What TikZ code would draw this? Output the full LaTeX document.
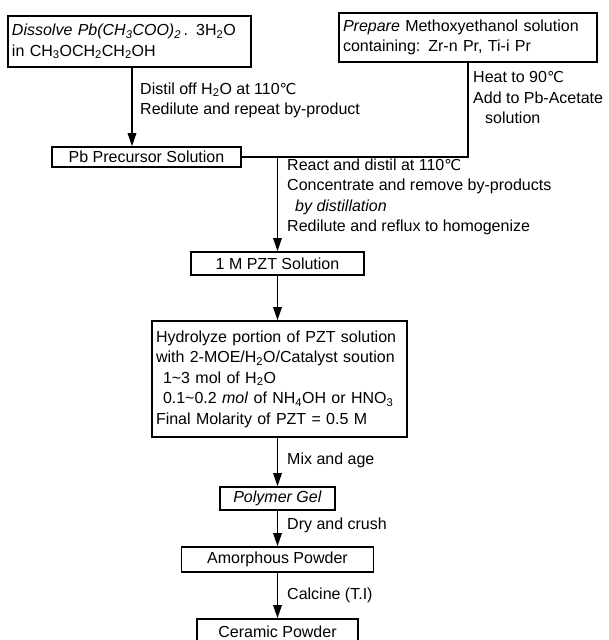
\documentclass[tikz,border=0pt]{standalone}
\usepackage{fontspec}
\setmainfont{Liberation Sans}
\newfontfamily\symfont{DejaVu Sans}
\usetikzlibrary{arrows.meta}
\newcommand{\degC}{{\symfont\fontsize{15}{15}\selectfont ℃}}
\newcommand{\mysub}[1]{\textsubscript{#1}}
\tikzset{
  box/.style={draw, line width=1.6pt, inner xsep=4pt, inner ysep=0pt, align=left},
  sbox/.style={draw, line width=1.6pt, inner sep=0pt, align=center},
  lbl/.style={inner sep=0pt, anchor=west, align=left},
  arr/.style={-{Triangle[length=13pt,width=8.5pt]}, line width=1.6pt},
  conn/.style={line width=1.6pt}
}
\begin{document}
\begin{tikzpicture}[x=1pt,y=-1pt,font=\fontsize{16}{20.5}\selectfont]
\useasboundingbox (0,0) rectangle (608,640);
\fill[white] (0,0) rectangle (608,640);
% boxes
\node[box, text width=235pt, minimum height=51pt] (d) at (129.5,41.5)
  {\textit{Dissolve Pb(CH\mysub{3}COO)\mysub{2}}\,. 3H\mysub{2}O\\in CH\mysub{3}OCH\mysub{2}CH\mysub{2}OH};
\node[box, text width=250pt, minimum height=49pt] (p) at (468,37.5)
  {\textit{Prepare} Methoxyethanol solution\\containing: Zr-n Pr, Ti-i Pr};
\node[sbox, minimum width=189pt, minimum height=20pt] (pb) at (146.5,157) {Pb Precursor Solution};
\node[sbox, minimum width=173pt, minimum height=23pt] (pzt) at (277.5,263.5) {1 M PZT Solution};
\node[box, text width=247pt, minimum height=116pt] (hyd) at (279.5,379)
  {Hydrolyze portion of PZT solution\\
   with 2-MOE/H\mysub{2}O/Catalyst soution\\
   \hspace*{7pt}1\textasciitilde 3 mol of H\mysub{2}O\\
   \hspace*{7pt}0.1\textasciitilde 0.2 \textit{mol} of NH\mysub{4}OH or HNO\mysub{3}\\
   Final Molarity of PZT = 0.5 M};
\node[sbox, minimum width=115pt, minimum height=23pt] (gel) at (277.5,498.5) {\textit{Polymer Gel}};
\node[sbox, minimum width=192pt, minimum height=25pt] (amo) at (277.5,559.5) {Amorphous Powder};
\node[sbox, minimum width=161pt, minimum height=26pt] (cer) at (277.5,632) {Ceramic Powder};
% labels
\node[lbl] (l1) at (140,100.5) {Distil off H\mysub{2}O at 110\degC\\Redilute and repeat by-product};
\node[lbl] (l2) at (473,97.5) {Heat to 90\degC\\Add to Pb-Acetate\\\hspace*{12pt}solution};
\node[lbl] (l3) at (287,197) {React and distil at 110\degC\\Concentrate and remove by-products\\\hspace*{8pt}\textit{by distillation}\\Redilute and reflux to homogenize};
\node[lbl] (l4) at (287,460) {Mix and age};
\node[lbl] (l5) at (287,525) {Dry and crush};
\node[lbl] (l6) at (287,595) {Calcine (T.I)};
% connectors
\coordinate (ca) at (132,0);
\draw[arr] (d.south -| ca) -- (pb.north -| ca);
\draw[conn] (p.south) |- (pb.east);
\draw[arr] (pb.east -| pzt.north) -- (pzt.north);
\draw[arr] (pzt.south) -- (pzt.south |- hyd.north);
\draw[arr] (hyd.south -| gel.north) -- (gel.north);
\draw[arr] (gel.south) -- (amo.north);
\draw[arr] (amo.south) -- (cer.north);
\end{tikzpicture}
\end{document}
